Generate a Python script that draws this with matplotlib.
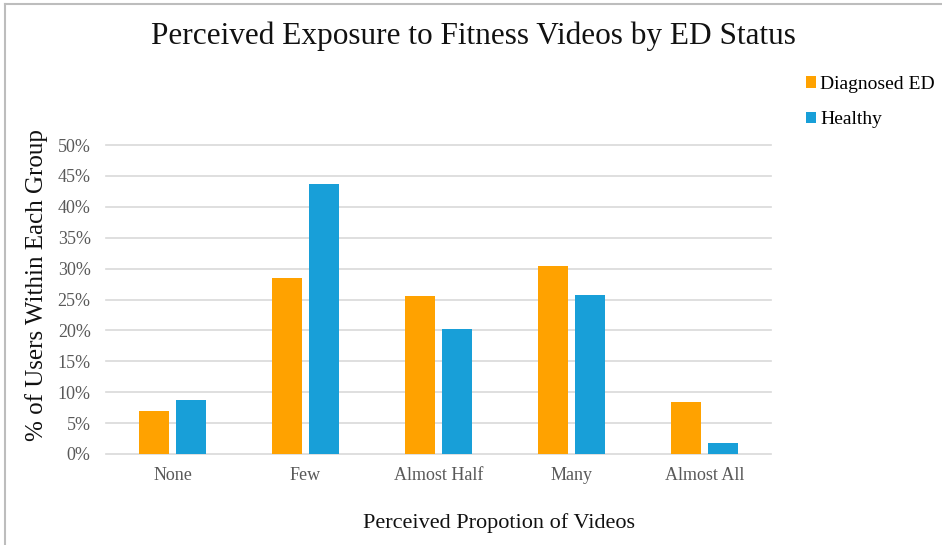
import matplotlib.pyplot as plt
import numpy as np
from matplotlib.lines import Line2D
from matplotlib.ticker import PercentFormatter

plt.rcParams['font.family'] = ['Liberation Serif', 'DejaVu Serif']

categories = ['None', 'Few', 'Almost Half', 'Many', 'Almost All']
diagnosed = [0.070, 0.284, 0.255, 0.305, 0.084]
healthy = [0.087, 0.437, 0.202, 0.257, 0.018]

orange = '#FFA200'
blue = '#189FD8'

fig = plt.figure(figsize=(9.42, 5.45), dpi=100)
ax = fig.add_axes([106/942, 1-454/545, 665/942, 309/545])

x = np.arange(len(categories))
w = 0.225
off = 0.139
ax.bar(x - off, diagnosed, w, color=orange, label='Diagnosed ED', zorder=3)
ax.bar(x + off, healthy, w, color=blue, label='Healthy', zorder=3)

ax.set_xlim(-0.5, len(categories) - 0.5)
ax.set_ylim(0, 0.5)
ax.set_yticks(np.arange(0, 0.51, 0.05))
ax.yaxis.set_major_formatter(PercentFormatter(1.0, decimals=0))
ax.set_xticks(x)
ax.set_xticklabels(categories)
ax.tick_params(length=0, labelsize=13, labelcolor='#595959')
ax.tick_params(axis='x', pad=9)
ax.tick_params(axis='y', pad=11)
ax.grid(axis='y', color='#d9d9d9', linewidth=1.2, zorder=0, clip_on=False)
for s in ax.spines.values():
    s.set_visible(False)

fig.text(473/942, 1-36/545, 'Perceived Exposure to Fitness Videos by ED Status',
         ha='center', va='center', fontsize=22.5, color='#111111')
fig.text(499/942, 1-523/545, 'Perceived Propotion of Videos',
         ha='center', va='center', fontsize=16, color='#111111')
fig.text(37/942, 1-285/545, '% of Users Within Each Group',
         ha='center', va='center', rotation=90, fontsize=18, color='#111111')

ax.legend(loc='upper left', bbox_to_anchor=(798/942, 1-68/545),
          bbox_transform=fig.transFigure, frameon=False, fontsize=14,
          handlelength=0.55, handleheight=0.55, handletextpad=0.2,
          labelspacing=0.95, borderaxespad=0)

# chart frame (left and top edges)
fig.add_artist(Line2D([5/942, 5/942], [0, 1-4/545], transform=fig.transFigure,
                      color='#bdbdbd', linewidth=1.5))
fig.add_artist(Line2D([5/942, 1], [1-4/545, 1-4/545], transform=fig.transFigure,
                      color='#bdbdbd', linewidth=1.5))

fig.savefig('out.png', dpi=100, facecolor='white')
